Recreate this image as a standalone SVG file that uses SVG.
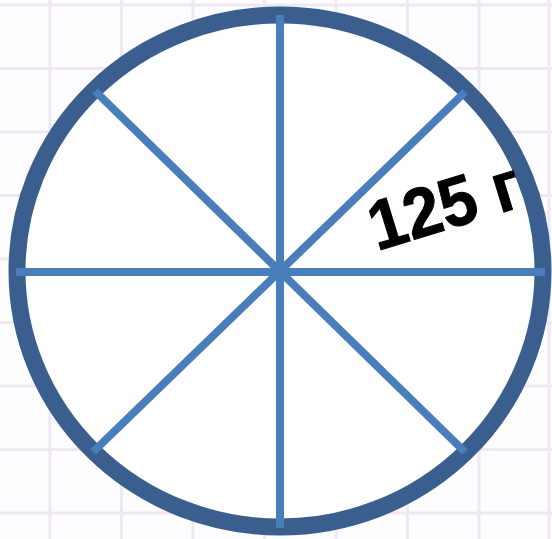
<svg xmlns="http://www.w3.org/2000/svg" width="552" height="539" viewBox="0 0 552 539">
<style>
.grid line{stroke:#efe8f2;stroke-width:3}
.spoke{stroke:#4a7ebb;stroke-width:8;fill:none}
.rim{stroke:#3a5f8e;stroke-width:17;fill:#ffffff}
.lbl{font-family:"Liberation Sans",Arial,sans-serif;font-weight:bold;font-size:70px;fill:#000;stroke:#000;stroke-width:1}
</style>
<rect width="552" height="539" fill="#fdfcfe"/>
<g class="grid">
<line x1="50" y1="0" x2="50" y2="539"/>
<line x1="121.5" y1="0" x2="121.5" y2="539"/>
<line x1="193" y1="0" x2="193" y2="539"/>
<line x1="264.5" y1="0" x2="264.5" y2="539"/>
<line x1="336" y1="0" x2="336" y2="539"/>
<line x1="407.5" y1="0" x2="407.5" y2="539"/>
<line x1="479" y1="0" x2="479" y2="539"/>
<line x1="549" y1="0" x2="549" y2="539"/>
<line x1="0" y1="5" x2="552" y2="5"/>
<line x1="0" y1="68.5" x2="552" y2="68.5"/>
<line x1="0" y1="132" x2="552" y2="132"/>
<line x1="0" y1="195.5" x2="552" y2="195.5"/>
<line x1="0" y1="259" x2="552" y2="259"/>
<line x1="0" y1="322.5" x2="552" y2="322.5"/>
<line x1="0" y1="386" x2="552" y2="386"/>
<line x1="0" y1="449.5" x2="552" y2="449.5"/>
<line x1="0" y1="513" x2="552" y2="513"/>
</g>
<g id="circle">
<ellipse class="rim" cx="280" cy="271" rx="263" ry="256"/>
</g>
<g id="spokes">
<line class="spoke" x1="280" y1="15" x2="280" y2="528"/>
<line class="spoke" x1="16" y1="272" x2="545" y2="272"/>
<line class="spoke" x1="95" y1="91" x2="465" y2="452"/>
<line class="spoke" x1="465" y1="92" x2="93" y2="452"/>
</g>
<g id="label">
<text class="lbl" transform="translate(377,251) rotate(-17) scale(0.94,1)">125 г</text>
</g>
</svg>
